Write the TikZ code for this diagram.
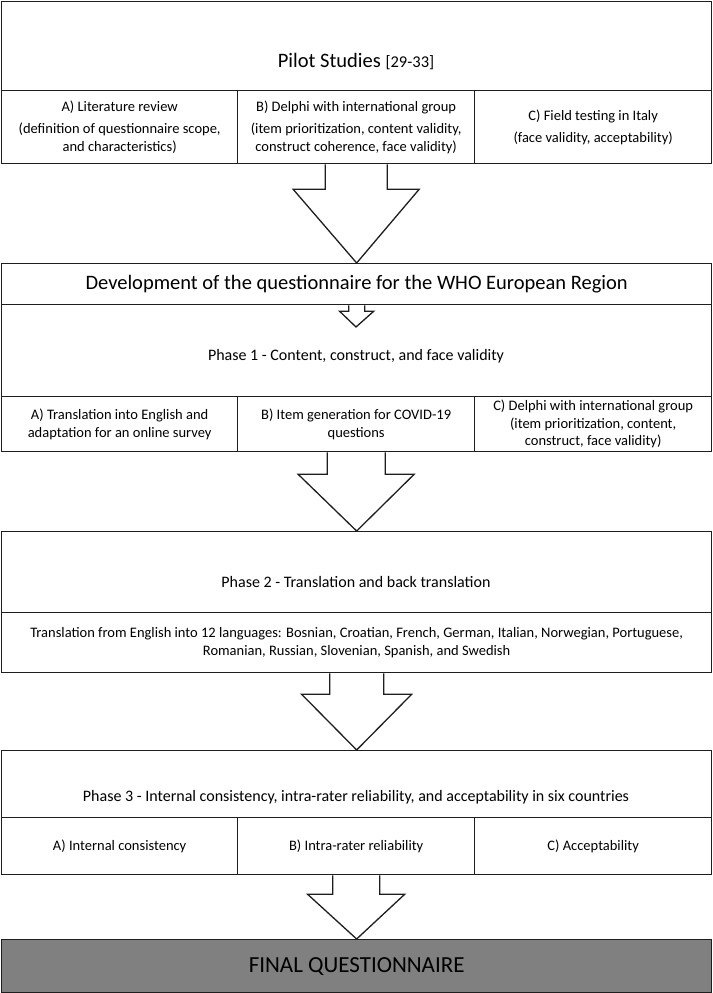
\documentclass[tikz,border=0pt]{standalone}
\usepackage{fontspec}
\setmainfont{Carlito}
\usetikzlibrary{calc}
\definecolor{boxline}{RGB}{30, 30, 30}
\definecolor{finalgray}{RGB}{128, 128, 128}

% block arrow from the bottom of a node to a point
\newcommand{\blockarrow}[5]{%
  \filldraw[fill=white, draw=boxline, line width=1.3pt, line join=miter]
    ($(#1.south)+(-#3,0)$) -- ($(#1.south)+(-#3,#5)$) -- ($(#1.south)+(-#4,#5)$)
    -- (#2) -- ($(#1.south)+(#4,#5)$) -- ($(#1.south)+(#3,#5)$) -- ($(#1.south)+(#3,0)$);}

\begin{document}
\begin{tikzpicture}[x=1pt, y=-1pt,
  box/.style={draw=boxline, line width=1.3pt, fill=white, inner sep=0pt, anchor=north west},
  subbox/.style={box, align=center, font=\fontsize{14.5}{17.5}\selectfont},
  headtext/.style={font=\fontsize{20.5}{24}\selectfont, inner sep=0pt},
  phasetext/.style={font=\fontsize{16}{19}\selectfont, inner sep=0pt}]
  \useasboundingbox (0,0) rectangle (712,993);

  % Pilot studies
  \node[box, minimum width=710pt, minimum height=89pt] (pilot) at (1,1) {};
  \node[headtext] (pilotT) at (356,62) {Pilot Studies {\fontsize{16.5}{18}\selectfont[29-33]}};
  \node[subbox, minimum width=236pt, minimum height=73pt] (pilotA) at (1,90)
    {A) Literature review\\[5pt](definition of questionnaire scope,\\and characteristics)};
  \node[subbox, minimum width=237pt, minimum height=73pt] (pilotB) at (237,90)
    {B) Delphi with international group\\[5pt](item prioritization, content validity,\\construct coherence, face validity)};
  \node[subbox, minimum width=237pt, minimum height=73pt] (pilotC) at (474,90)
    {C) Field testing in Italy\\[5pt](face validity, acceptability)};

  % Development
  \node[box, minimum width=710pt, minimum height=41pt, headtext] (dev) at (1,263)
    {Development of the questionnaire for the WHO European Region};

  % Phase 1
  \node[box, minimum width=710pt, minimum height=92pt] (ph1) at (1,304) {};
  \node[phasetext] (ph1T) at (356,356) {Phase 1 - Content, construct, and face validity};
  \coordinate (ph1tip) at (356,327);
  \node[subbox, minimum width=236pt, minimum height=55pt] (ph1A) at (1,396)
    {A) Translation into English and\\adaptation for an online survey};
  \node[subbox, minimum width=237pt, minimum height=55pt] (ph1B) at (237,396)
    {B) Item generation for COVID-19\\questions};
  \node[subbox, minimum width=237pt, minimum height=55pt] (ph1C) at (474,396)
    {C) Delphi with international group\\(item prioritization, content,\\construct, face validity)};

  % Phase 2
  \node[box, minimum width=710pt, minimum height=81pt] (ph2) at (1,531) {};
  \node[phasetext] (ph2T) at (356,582) {Phase 2 - Translation and back translation};
  \node[subbox, minimum width=710pt, minimum height=60pt] (ph2sub) at (1,612)
    {Translation from English into 12 languages: Bosnian, Croatian, French, German, Italian, Norwegian, Portuguese,\\Romanian, Russian, Slovenian, Spanish, and Swedish};

  % Phase 3
  \node[box, minimum width=710pt, minimum height=67pt] (ph3) at (1,750) {};
  \node[phasetext] (ph3T) at (356,797) {Phase 3 - Internal consistency, intra-rater reliability, and acceptability in six countries};
  \node[subbox, minimum width=236pt, minimum height=57pt] (ph3A) at (1,817) {A) Internal consistency};
  \node[subbox, minimum width=237pt, minimum height=57pt] (ph3B) at (237,817) {B) Intra-rater reliability};
  \node[subbox, minimum width=237pt, minimum height=57pt] (ph3C) at (474,817) {C) Acceptability};

  % Final
  \node[box, fill=finalgray, minimum width=710pt, minimum height=53pt,
    font=\fontsize{23}{27}\selectfont] (final) at (1,939) {FINAL QUESTIONNAIRE};

  % Arrows
  \blockarrow{pilotB}{dev.north}{31}{63}{25}
  \blockarrow{dev}{ph1tip}{8}{17}{6}
  \blockarrow{ph1B}{ph2.north}{29}{58}{22}
  \blockarrow{ph2sub}{ph3.north}{27}{55}{21}
  \blockarrow{ph3B}{final.north}{23.5}{48.5}{19}
\end{tikzpicture}
\end{document}
